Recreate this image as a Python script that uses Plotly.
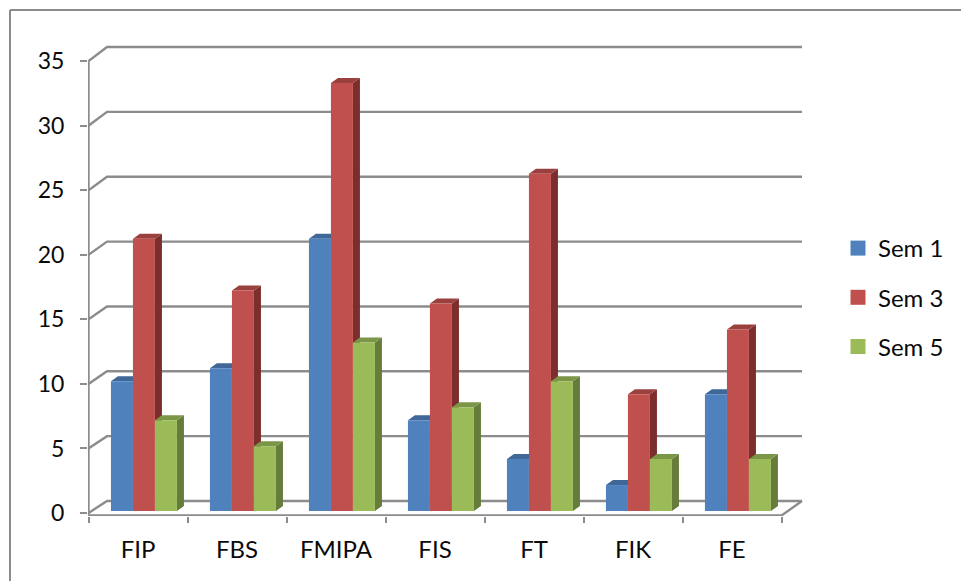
import plotly.graph_objects as go

categories = ["FIP", "FBS", "FMIPA", "FIS", "FT", "FIK", "FE"]
sem1 = [10, 11, 21, 7, 4, 2, 9]
sem3 = [21, 17, 33, 16, 26, 9, 14]
sem5 = [7, 5, 13, 8, 10, 4, 4]
series_names = ["Sem 1", "Sem 3", "Sem 5"]
y_ticks = [0, 5, 10, 15, 20, 25, 30, 35]

front_colors = ["#4f81bd", "#c0504d", "#9bbb59"]
top_colors = ["#3f6797", "#9a403e", "#7c9647"]
side_colors = ["#385d8a", "#7b2e2c", "#667c3a"]
GRAY = "#8c8c8c"
FONT = "Lato"

# pixel calibration of the plot frame and of the three depth planes
W, H = 961, 581
L, R, T, B = 88, 810, 30, 516
CAT = 99.0
X0 = 88.5
FRONT0, FRONT_U = 513.0, 12.91
BACK0, BACK_U = 501.0, 12.97
BAR0, BAR_U = 511.0, 12.97
BAR_W = 22 / CAT
CLUSTER = 0.56
DX, DY = 7 / CAT, 5 / BAR_U
WALL_DX = 18.5 / CAT
WALL_END = (802 - X0) / CAT


def rng(zero, unit):
    return [(zero - B) / unit, (zero - T) / unit]


def front_on_back(v):
    return (BACK0 - (FRONT0 - FRONT_U * v)) / BACK_U


fig = go.Figure()

# wall gridlines (y2)
gx, gy = [], []
for v in y_ticks:
    gx += [0, WALL_DX, WALL_END, None]
    gy += [front_on_back(v), v, v, None]
fig.add_trace(go.Scatter(x=gx, y=gy, yaxis="y2", mode="lines", showlegend=False,
                         hoverinfo="skip", cliponaxis=False,
                         line=dict(color=GRAY, width=2.4)))
# axis line, floor and right floor edge
fig.add_trace(go.Scatter(x=[0, 0, 7, WALL_END],
                         y=[front_on_back(35), (BACK0 - 515.5) / BACK_U, (BACK0 - 515.5) / BACK_U, 0],
                         yaxis="y2", mode="lines", showlegend=False, hoverinfo="skip",
                         cliponaxis=False, line=dict(color=GRAY, width=2.4)))

# bars with their side and top faces (y3)
all_vals = [sem1, sem3, sem5]
for s, vals in enumerate(all_vals):
    off = (s - 1) * BAR_W
    sx, sy, tx, ty = [], [], [], []
    for i, v in enumerate(vals):
        c = i + CLUSTER + off
        a, b = c - BAR_W / 2, c + BAR_W / 2
        sx += [b, b + DX, b + DX, b, b, None]
        sy += [0, DY, v + DY, v, 0, None]
        tx += [a, a + DX, b + DX, b, a, None]
        ty += [v, v + DY, v + DY, v, v, None]
    z = s * 3 + 1
    fig.add_trace(go.Scatter(x=sx, y=sy, yaxis="y3", mode="lines", fill="toself",
                             fillcolor=side_colors[s], line=dict(width=0),
                             showlegend=False, hoverinfo="skip", zorder=z, cliponaxis=False))
    fig.add_trace(go.Scatter(x=tx, y=ty, yaxis="y3", mode="lines", fill="toself",
                             fillcolor=top_colors[s], line=dict(width=0),
                             showlegend=False, hoverinfo="skip", zorder=z + 1, cliponaxis=False))
    fig.add_trace(go.Bar(x=[i + CLUSTER + off for i in range(len(vals))], y=vals, width=BAR_W,
                         yaxis="y3", name=series_names[s], marker=dict(color=front_colors[s], line=dict(width=0)),
                         showlegend=False, zorder=z + 2))
    fig.add_trace(go.Scatter(x=[None], y=[None], mode="markers", name=series_names[s],
                             legendgroup=series_names[s],
                             marker=dict(symbol="square", size=15, color=front_colors[s])))

PW = R - L
PH = B - T
fig.update_layout(
    width=W, height=H, autosize=False,
    margin=dict(l=L, r=W - R, t=T, b=H - B, pad=0),
    paper_bgcolor="white", plot_bgcolor="rgba(0,0,0,0)",
    font=dict(family=FONT, size=23, color="#0a0a0a"),
    barmode="overlay",
    xaxis=dict(range=[(L - X0) / CAT, (R - X0) / CAT], showgrid=False, zeroline=False,
               tickmode="array", tickvals=[i + 0.5 for i in range(len(categories))],
               ticktext=categories, ticks="outside", ticklen=12, tickcolor="rgba(0,0,0,0)",
               tickfont=dict(size=24),
               minor=dict(tickmode="array", tickvals=list(range(len(categories) + 1)),
                          ticks="outside", ticklen=6, tickwidth=2, tickcolor=GRAY, showgrid=False)),
    yaxis=dict(range=rng(FRONT0, FRONT_U), tickmode="array", tickvals=y_ticks, showgrid=False,
               zeroline=False, ticks="outside", ticklen=7, tickwidth=2, tickcolor=GRAY,
               ticklabelstandoff=11),
    yaxis2=dict(range=rng(BACK0, BACK_U), overlaying="y", visible=False),
    yaxis3=dict(range=rng(BAR0, BAR_U), overlaying="y", visible=False),
    legend=dict(x=(838 - L) / PW, xanchor="left", y=1 - (226 - T) / PH, yanchor="top",
                tracegroupgap=15, bgcolor="rgba(0,0,0,0)", font=dict(family=FONT, size=24)),
    shapes=[
        dict(type="line", xref="paper", yref="paper", layer="below",
             x0=(10 - L) / PW, x1=(10 - L) / PW, y0=1 - (10 - T) / PH, y1=1 - (581 - T) / PH,
             line=dict(color=GRAY, width=2)),
        dict(type="line", xref="paper", yref="paper", layer="below",
             x0=(10 - L) / PW, x1=(961 - L) / PW, y0=1 - (10 - T) / PH, y1=1 - (10 - T) / PH,
             line=dict(color=GRAY, width=2)),
    ],
)
fig.write_html("out.html", config={"displayModeBar": False},
               post_script="document.documentElement.style.margin='0';document.body.style.margin='0';document.body.style.overflow='hidden';")
